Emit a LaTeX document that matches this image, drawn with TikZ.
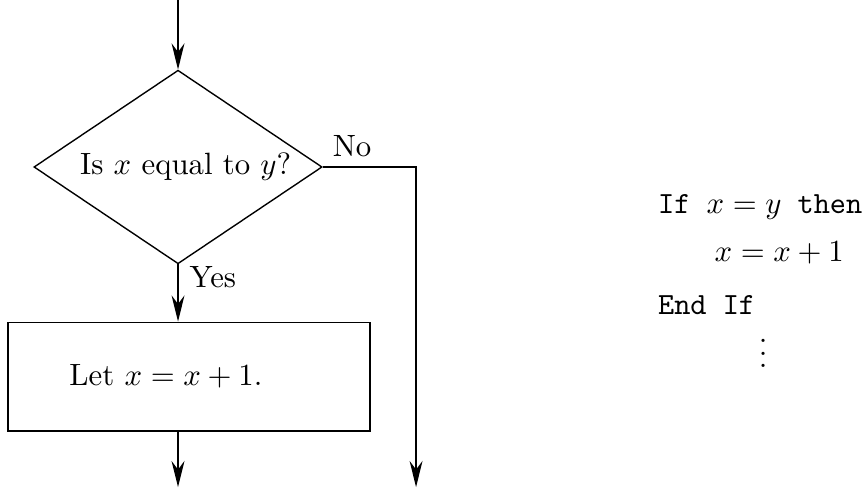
\documentclass[tikz,border=0pt]{standalone}
\usepackage{amsmath,amssymb}
\usepackage{tikz}
\usetikzlibrary{shapes.geometric,arrows.meta}

\tikzset{
  flowline/.style={line width=0.45pt,-{Stealth[length=8.5pt,width=4.2pt,inset=2.8pt]}},
  decision/.style={draw,line width=0.45pt,diamond,aspect=1.485,minimum width=3.29cm,minimum height=2.21cm,inner sep=0pt},
  action/.style={draw,line width=0.45pt,rectangle,minimum width=4.13cm,minimum height=1.24cm,inner sep=0pt},
  codeline/.style={anchor=west,inner sep=0pt}
}

\begin{document}
\begin{tikzpicture}[x=1cm,y=1cm]
\useasboundingbox (0,0) rectangle (9.885,-5.56);
% flowchart
\coordinate (in) at (2.032,0);
\node[decision] (test) at (2.032,-1.906) {\hspace*{5pt}Is $x$ equal to $y$?};
\node[action] (incr) at (2.158,-4.298) {Let $x=x+1$.\hspace*{15pt}};
\coordinate (corner) at (4.749,-1.906);
\coordinate (outno) at (4.749,-5.56);
\coordinate (outyes) at (2.032,-5.56);
\draw[flowline] (in) -- (test.north);
\draw[flowline] (test.south) -- (test.south |- incr.north);
\draw[flowline] (incr.south -| test.south) -- (outyes);
\draw[flowline] (test.east) -- (corner) -- (outno);
\node (no) at (4.018,-1.667) {No};
\node (yes) at (2.43,-3.162) {Yes};
% pseudocode
\node[codeline] (ifline) at (7.505,-2.363) {\texttt{If }$x=y$\texttt{ then}};
\node[codeline] (body) at (8.150,-2.888) {$x=x+1$};
\node[codeline] (endif) at (7.505,-3.482) {\texttt{End If}};
\node (dots) at (8.710,-3.93) {$\vdots$};
\end{tikzpicture}
\end{document}
